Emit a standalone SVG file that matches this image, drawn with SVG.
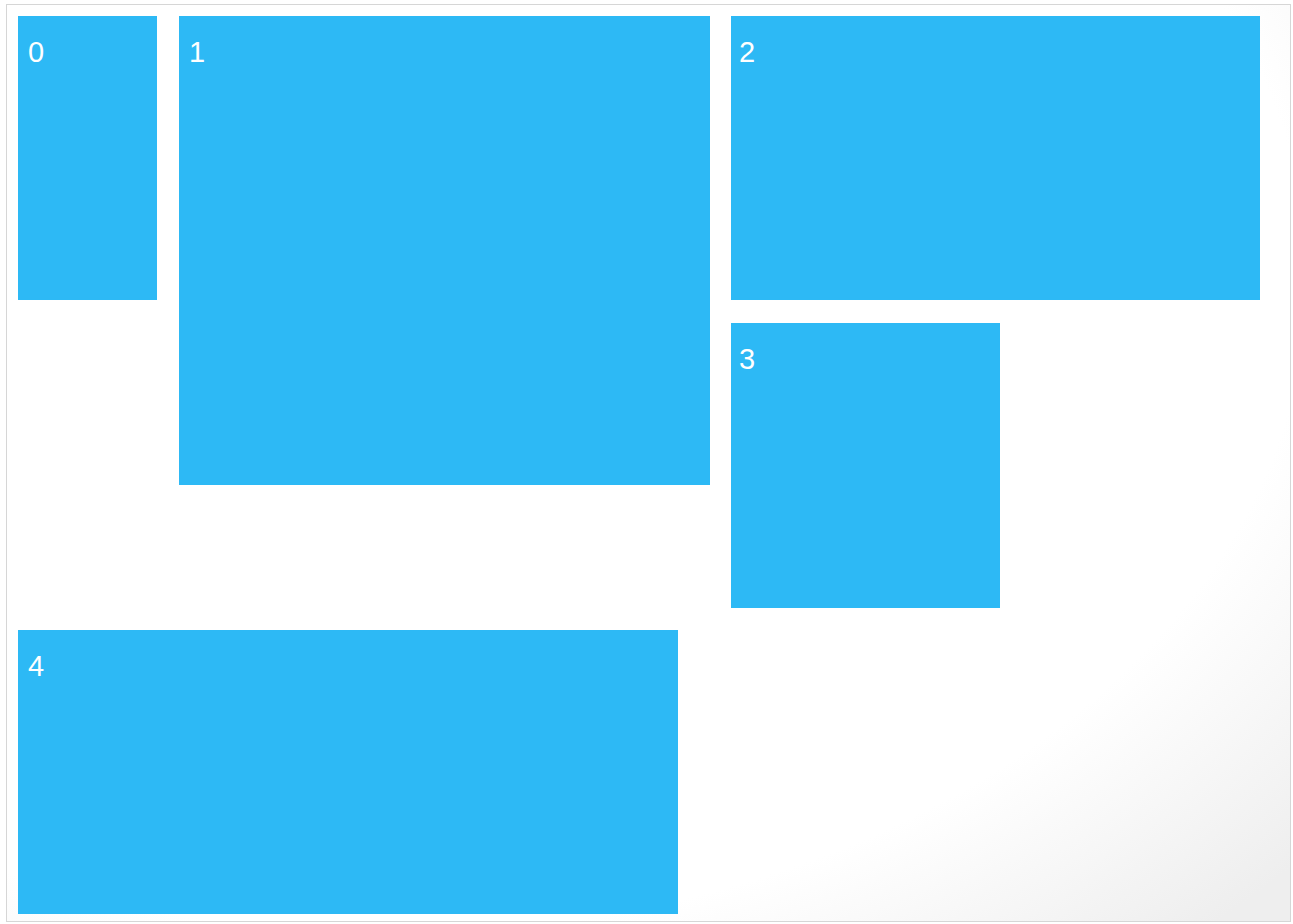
<svg xmlns="http://www.w3.org/2000/svg" width="1293" height="924" viewBox="0 0 1293 924">
<defs>
<radialGradient id="bg" cx="0.3" cy="0.3" r="0.95">
<stop offset="0.75" stop-color="#ffffff"/>
<stop offset="1" stop-color="#eeeeee"/>
</radialGradient>
<style>
.tile{fill:#2db9f5}
.lbl{font-family:"Liberation Sans",Arial,sans-serif;font-size:29px;fill:#ffffff}
</style>
</defs>
<rect x="0" y="0" width="1293" height="924" fill="#ffffff"/>
<rect x="6.5" y="4.5" width="1284" height="917" fill="url(#bg)" stroke="#d6d6d6" stroke-width="1"/>
<g id="node0"><rect class="tile" x="18" y="16" width="139" height="284"/><text class="lbl" x="28" y="62">0</text></g>
<g id="node1"><rect class="tile" x="179" y="16" width="531" height="469"/><text class="lbl" x="189" y="62">1</text></g>
<g id="node2"><rect class="tile" x="731" y="16" width="529" height="284"/><text class="lbl" x="739" y="62">2</text></g>
<g id="node3"><rect class="tile" x="731" y="323" width="269" height="285"/><text class="lbl" x="739" y="369">3</text></g>
<g id="node4"><rect class="tile" x="18" y="630" width="660" height="284"/><text class="lbl" x="28" y="676">4</text></g>
<g id="connectors"/>
</svg>
